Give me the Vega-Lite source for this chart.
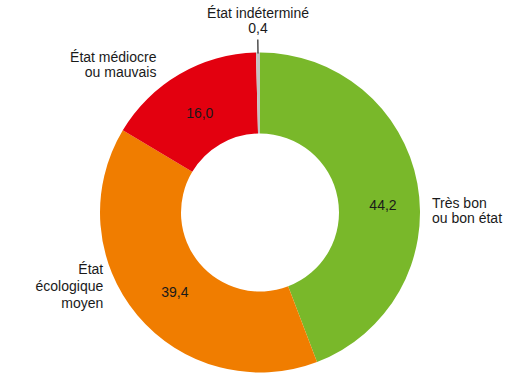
{
  "$schema": "https://vega.github.io/schema/vega-lite/v6.json",
  "width": 514,
  "height": 374,
  "autosize": {"type": "fit", "contains": "padding"},
  "padding": {"top": 32, "bottom": 0, "left": 6, "right": 0},
  "background": "white",
  "view": {"stroke": null},
  "data": {
    "values": [
      {"cat": "bon", "ordre": 1, "value": 44.2, "txt": "44,2", "nom": "Très bon\nou bon état"},
      {"cat": "moyen", "ordre": 2, "value": 39.4, "txt": "39,4", "nom": "État\nécologique\nmoyen"},
      {"cat": "mediocre", "ordre": 3, "value": 16.0, "txt": "16,0", "nom": "État médiocre\nou mauvais"},
      {"cat": "ind", "ordre": 4, "value": 0.4, "txt": "0,4", "nom": "État indéterminé\n0,4"}
    ]
  },
  "encoding": {
    "theta": {"field": "value", "type": "quantitative", "stack": true},
    "order": {"field": "ordre", "type": "ordinal"}
  },
  "layer": [
    {
      "mark": {"type": "arc", "innerRadius": 79, "outerRadius": 160},
      "encoding": {
        "color": {
          "field": "cat",
          "type": "nominal",
          "scale": {"domain": ["bon", "moyen", "mediocre", "ind"], "range": ["#79b82a", "#f07d00", "#e3000f", "#c3c3c3"]},
          "legend": null
        }
      }
    },
    {
      "mark": {"type": "arc", "innerRadius": 159, "outerRadius": 173, "padAngle": 0.2, "fill": "transparent", "stroke": "#222222", "strokeWidth": 1.2},
      "encoding": {
        "strokeOpacity": {"condition": {"test": "datum.cat === 'ind'", "value": 1}, "value": 0}
      }
    },
    {
      "mark": {"type": "text", "radius": 125, "thetaOffset": 0.173, "dx": -2, "dy": -5, "align": "center", "baseline": "middle", "font": "Liberation Sans", "fontSize": 14, "color": "#1a1a1a"},
      "encoding": {"text": {"condition": {"test": "datum.cat === 'bon'", "field": "txt"}, "value": ""}}
    },
    {
      "mark": {"type": "text", "radius": 119, "thetaOffset": -0.1, "dx": -2, "dy": -5, "align": "center", "baseline": "middle", "font": "Liberation Sans", "fontSize": 14, "color": "#1a1a1a"},
      "encoding": {"text": {"condition": {"test": "datum.cat === 'moyen'", "field": "txt"}, "value": ""}}
    },
    {
      "mark": {"type": "text", "radius": 110, "thetaOffset": -0.03, "dx": -2, "dy": -5, "align": "center", "baseline": "middle", "font": "Liberation Sans", "fontSize": 14, "color": "#1a1a1a"},
      "encoding": {"text": {"condition": {"test": "datum.cat === 'mediocre'", "field": "txt"}, "value": ""}}
    },
    {
      "mark": {"type": "text", "radius": 174, "thetaOffset": 0.164, "dx": -2, "dy": -5, "align": "left", "baseline": "middle", "lineBreak": "\n", "lineHeight": 15, "font": "Liberation Sans", "fontSize": 14, "color": "#1a1a1a"},
      "encoding": {"text": {"condition": {"test": "datum.cat === 'bon'", "field": "nom"}, "value": ""}}
    },
    {
      "mark": {"type": "text", "radius": 167, "thetaOffset": 0.312, "dx": -2, "dy": -5, "align": "right", "baseline": "middle", "lineBreak": "\n", "lineHeight": 17, "font": "Liberation Sans", "fontSize": 14, "color": "#1a1a1a"},
      "encoding": {"text": {"condition": {"test": "datum.cat === 'moyen'", "field": "nom"}, "value": ""}}
    },
    {
      "mark": {"type": "text", "radius": 181, "thetaOffset": -0.068, "dx": -2, "dy": -5, "align": "right", "baseline": "middle", "lineBreak": "\n", "lineHeight": 15, "font": "Liberation Sans", "fontSize": 14, "color": "#1a1a1a"},
      "encoding": {"text": {"condition": {"test": "datum.cat === 'mediocre'", "field": "nom"}, "value": ""}}
    },
    {
      "mark": {"type": "text", "radius": 194, "thetaOffset": 0.0126, "dx": -2, "dy": -5, "align": "center", "baseline": "middle", "lineBreak": "\n", "lineHeight": 15, "font": "Liberation Sans", "fontSize": 14, "color": "#1a1a1a"},
      "encoding": {"text": {"condition": {"test": "datum.cat === 'ind'", "field": "nom"}, "value": ""}}
    }
  ]
}
